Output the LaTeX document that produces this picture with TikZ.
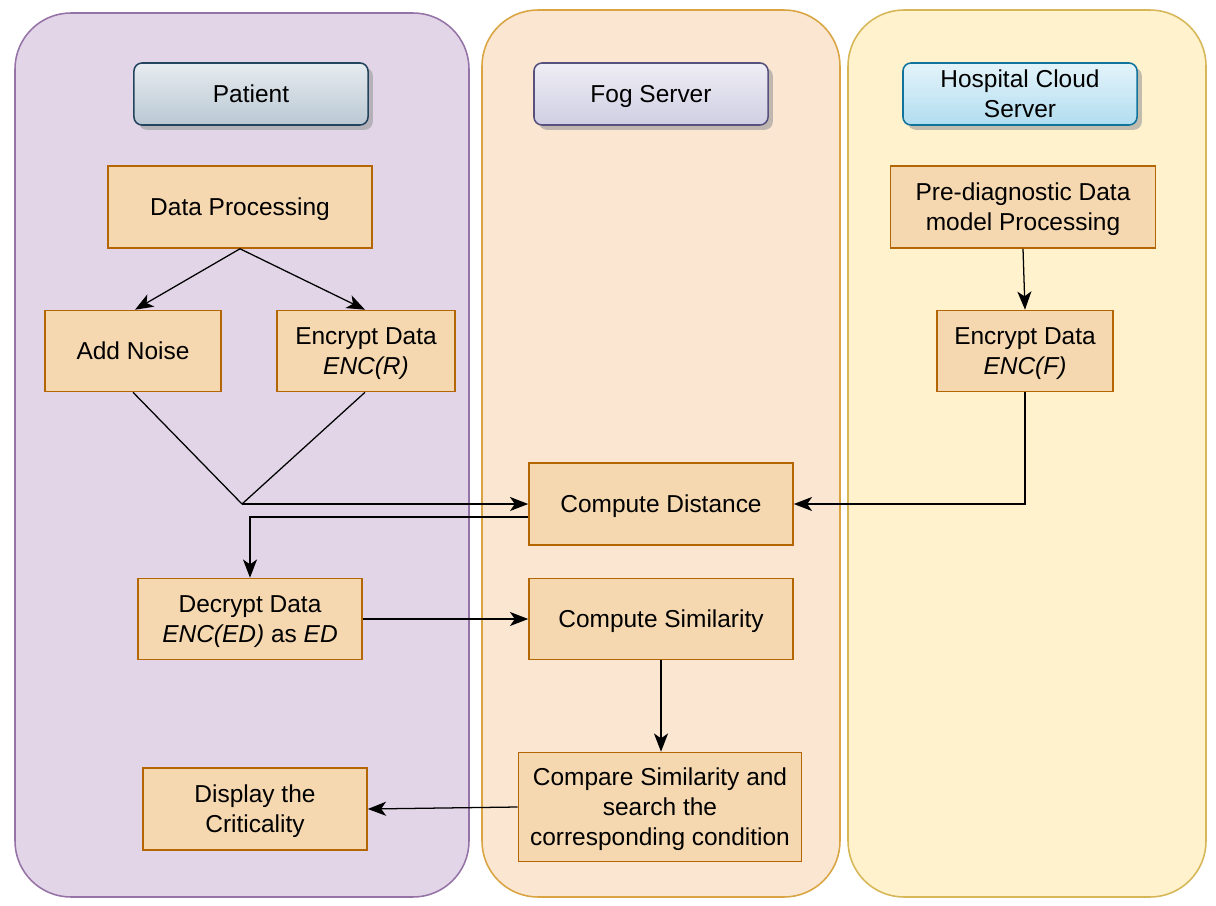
\documentclass[tikz,border=0pt]{standalone}
\usepackage{fontspec}
\setmainfont{Liberation Sans}
\usetikzlibrary{arrows.meta,shadows}
\definecolor{laneA}{HTML}{E1D5E7}
\definecolor{laneAline}{HTML}{9673A6}
\definecolor{laneB}{HTML}{FAE6D1}
\definecolor{laneBline}{HTML}{D9A441}
\definecolor{laneC}{HTML}{FFF2CC}
\definecolor{laneCline}{HTML}{D6B656}
\definecolor{boxfill}{HTML}{F6D8B0}
\definecolor{boxline}{HTML}{B46504}
\definecolor{patfill}{HTML}{BAC8D3}
\definecolor{patline}{HTML}{23445D}
\definecolor{fogfill}{HTML}{D0CEE2}
\definecolor{fogline}{HTML}{56517E}
\definecolor{hospfill}{HTML}{B1DDF0}
\definecolor{hospline}{HTML}{10739E}
\begin{document}
\begin{tikzpicture}[x=0.025cm,y=-0.025cm,
    font=\fontsize{17.4}{21.3}\selectfont,
    lane/.style={line width=1.1pt,rounded corners=1.4cm},
    stepbox/.style={draw=boxline,fill=boxfill,line width=1.1pt,align=center,inner sep=2pt,text depth=0pt},
    header/.style={draw=#1line,line width=1.1pt,rounded corners=0.2cm,top color=#1fill!35!white,
        bottom color=#1fill,minimum width=5.85cm,minimum height=1.55cm,align=center,text depth=0pt,
        drop shadow={shadow xshift=0.12cm,shadow yshift=-0.12cm,fill=black!40,opacity=0.6}},
    arr/.style={-{Stealth[length=13pt,width=10pt,inset=3.5pt]},line width=0.9pt},
    link/.style={line width=0.9pt}]
    \useasboundingbox (0,0) rectangle (1216,906);
    % swim lanes
    \draw[lane,draw=laneAline,fill=laneA] (15,13) rectangle (469,897);
    \draw[lane,draw=laneBline,fill=laneB] (482,10) rectangle (840,897);
    \draw[lane,draw=laneCline,fill=laneC] (848,10) rectangle (1206,897);
    % lane titles
    \node[header=pat] (patient) at (251,94) {Patient};
    \node[header=fog] (fog) at (651,94) {Fog Server};
    \node[header=hosp] (hospital) at (1020,94) {Hospital Cloud\\Server};
    % patient side
    \node[stepbox,minimum width=6.6cm,minimum height=2.05cm] (proc) at (240,207) {Data Processing};
    \node[stepbox,minimum width=4.4cm,minimum height=2.025cm] (noise) at (133,351) {Add Noise};
    \node[stepbox,minimum width=4.45cm,minimum height=2.025cm] (encr) at (366,351) {Encrypt Data\\\textit{ENC(R)}};
    \node[stepbox,minimum width=5.6cm,minimum height=2.025cm] (decr) at (250,619) {Decrypt Data\\\textit{ENC(ED)} as \textit{ED}};
    \node[stepbox,minimum width=5.6cm,minimum height=2.05cm] (show) at (255,809) {Display the\\Criticality};
    % fog side
    \node[stepbox,minimum width=6.6cm,minimum height=2.05cm] (dist) at (661,504) {Compute Distance};
    \node[stepbox,minimum width=6.6cm,minimum height=2.025cm] (simi) at (661,619) {Compute Similarity};
    \node[stepbox,minimum width=7.075cm,minimum height=2.725cm] (comp) at (660,807) {Compare Similarity and\\search the\\corresponding condition};
    % hospital side
    \node[stepbox,minimum width=6.625cm,minimum height=2.05cm] (prediag) at (1023,207) {Pre-diagnostic Data\\model Processing};
    \node[stepbox,minimum width=4.4cm,minimum height=2.025cm] (encf) at (1025,351) {Encrypt Data\\\textit{ENC(F)}};
    % connectors
    \coordinate (join) at (242,504);
    \draw[arr] (proc.south) -- ([xshift=0.05cm]noise.north);
    \draw[arr] (proc.south) -- ([xshift=-0.025cm]encr.north);
    \draw[link] (noise.south) -- (join);
    \draw[link] ([xshift=-0.025cm]encr.south) -- (join);
    \draw[arr] (join) -- (dist.west);
    \draw[arr] ([yshift=-0.325cm]dist.west) -| (decr.north);
    \draw[arr] (prediag.south) -- (encf.north);
    \draw[arr] (encf.south) |- (dist.east);
    \draw[arr] (decr.east) -- (simi.west);
    \draw[arr] (simi.south) -- (simi.south |- comp.north);
    \draw[arr] (comp.west) -- (show.east);
\end{tikzpicture}
\end{document}
